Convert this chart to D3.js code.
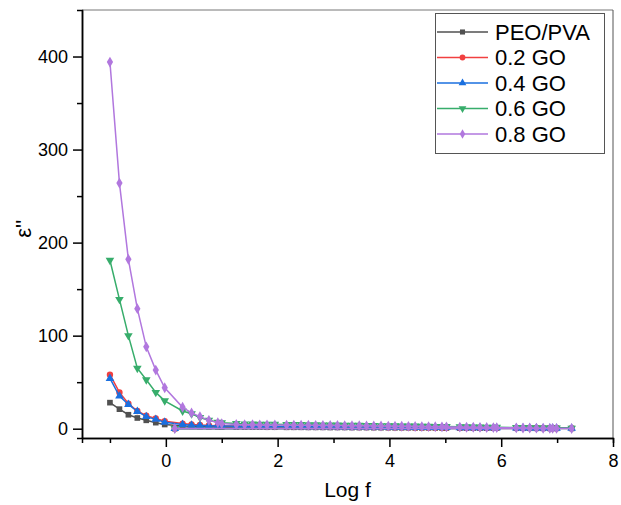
<!DOCTYPE html>
<html>
<head>
<meta charset="utf-8">
<script src="https://cdn.jsdelivr.net/npm/d3@7"></script>
<style>
  body { margin: 0; background: #fff; }
  svg { font-family: "Liberation Sans", Arial, sans-serif; }
  .axis path, .axis line { stroke: #000; stroke-width: 1.5; }
  .axis text { fill: #000; font-size: 18px; }
</style>
</head>
<body>
<div id="content"></div>
<script>
// Log f values (x), same for every series. The last point (0.16) is the odd
// point that sits near zero and is drawn as the last point of each series.
var logF = [-1.00, -0.83, -0.67, -0.51, -0.35, -0.18, -0.02,
    0.30, 0.46, 0.61, 0.77, 0.93, 1.00, 1.26, 1.41, 1.55, 1.68, 1.81, 1.95,
    2.16, 2.29, 2.42, 2.55, 2.68, 2.81, 2.94, 3.07, 3.20, 3.33, 3.46, 3.59, 3.72, 3.85, 3.98,
    4.10, 4.22, 4.34, 4.46, 4.58, 4.70, 4.82, 4.94, 5.02,
    5.26, 5.38, 5.50, 5.62, 5.74, 5.86, 5.92,
    6.27, 6.39, 6.51, 6.63, 6.75, 6.87, 6.92, 6.99,
    7.26, 0.16];

var peoPva = [28, 21, 15, 11.5, 9, 6.5, 4.5,
    3, 2.6, 2.3, 2.1, 2, 1.9, 1.8, 1.8, 1.7, 1.7, 1.6, 1.6,
    1.5, 1.5, 1.5, 1.4, 1.4, 1.4, 1.3, 1.3, 1.3, 1.2, 1.2, 1.2, 1.1, 1.1, 1.1,
    1, 1, 1, 0.9, 0.9, 0.9, 0.8, 0.8, 0.8,
    0.7, 0.7, 0.7, 0.6, 0.6, 0.6, 0.6,
    0.5, 0.5, 0.5, 0.4, 0.4, 0.4, 0.4, 0.4,
    0.3, 0.1];

var go02 = [58, 39, 27, 19, 14, 11, 8,
    5.5, 4.6, 3.9, 3.4, 3.1, 3, 2.8, 2.7, 2.6, 2.5, 2.4, 2.4,
    2.3, 2.3, 2.2, 2.2, 2.1, 2.1, 2, 2, 1.9, 1.9, 1.8, 1.8, 1.7, 1.7, 1.6,
    1.6, 1.5, 1.5, 1.4, 1.4, 1.3, 1.3, 1.2, 1.2,
    1.1, 1.1, 1, 1, 0.9, 0.9, 0.9,
    0.8, 0.8, 0.7, 0.7, 0.6, 0.6, 0.6, 0.5,
    0.4, 0.2];

var go04 = [54, 35, 26, 18.5, 13, 10, 7,
    4.5, 3.8, 3.4, 3.1, 2.9, 2.8, 2.7, 2.6, 2.5, 2.5, 2.4, 2.4,
    2.3, 2.3, 2.2, 2.2, 2.1, 2.1, 2, 2, 1.9, 1.9, 1.8, 1.8, 1.7, 1.7, 1.6,
    1.6, 1.5, 1.5, 1.4, 1.4, 1.3, 1.3, 1.2, 1.2,
    1.1, 1.1, 1, 1, 0.9, 0.9, 0.9,
    0.8, 0.8, 0.7, 0.7, 0.6, 0.6, 0.6, 0.5,
    0.4, 0.2];

var go06 = [181, 139, 100, 65, 52.6, 39, 30,
    19, 16, 12, 9, 7, 6.5, 5.5, 5.2, 5, 4.9, 4.8, 4.7,
    4.6, 4.5, 4.4, 4.3, 4.2, 4.1, 4, 3.9, 3.8, 3.7, 3.6, 3.5, 3.4, 3.3, 3.2,
    3.1, 3, 2.9, 2.8, 2.7, 2.6, 2.5, 2.4, 2.3,
    2.1, 2, 1.9, 1.8, 1.7, 1.6, 1.5,
    1.3, 1.2, 1.1, 1, 0.9, 0.8, 0.8, 0.7,
    0.5, 0.2];

var go08 = [394, 264, 182, 129, 88, 63, 44,
    23, 17, 13, 9, 6.5, 5.5, 4.5, 4.3, 4.2, 4.1, 4, 4,
    3.9, 3.8, 3.8, 3.7, 3.6, 3.5, 3.5, 3.4, 3.3, 3.2, 3.2, 3.1, 3, 2.9, 2.8,
    2.7, 2.6, 2.5, 2.4, 2.3, 2.2, 2.1, 2, 1.9,
    1.7, 1.6, 1.5, 1.4, 1.3, 1.2, 1.1,
    0.9, 0.8, 0.7, 0.6, 0.5, 0.4, 0.4, 0.3,
    0.2, 0.2];

var seriesNames = ["PEO/PVA", "0.2 GO", "0.4 GO", "0.6 GO", "0.8 GO"];
var seriesValues = [peoPva, go02, go04, go06, go08];
var seriesColors = ["#515151", "#F14040", "#1A6FDF", "#37AD6B", "#B177DE"];
var seriesSymbols = [d3.symbolSquare, d3.symbolCircle, d3.symbolTriangle, "down", d3.symbolDiamond];

var xMajorTicks = [0, 2, 4, 6, 8];
var xMinorTicks = [-1, 1, 3, 5, 7];
var yMajorTicks = [0, 100, 200, 300, 400];
var yMinorTicks = [50, 150, 250, 350];

// SVG size
var svgWidth = 621;
var svgHeight = 505;
var margin = { top: 10, right: 8, bottom: 67, left: 82 },
    plotWidth = svgWidth - margin.left - margin.right,
    plotHeight = svgHeight - margin.top - margin.bottom;

var xScale = d3.scaleLinear().domain([-1.5, 8]).range([0, plotWidth]);
var yScale = d3.scaleLinear().domain([-10, 450]).range([plotHeight, 0]);

var svg = d3.select("#content").append("svg")
    .attr("width", svgWidth)
    .attr("height", svgHeight);

var chart = svg.append("g")
    .attr("transform", "translate(" + margin.left + "," + margin.top + ")");

// Top and right frame lines (thin grey)
chart.append("line")
    .attr("x1", 0).attr("y1", 0).attr("x2", plotWidth).attr("y2", 0)
    .attr("stroke", "#777").attr("stroke-width", 1);
chart.append("line")
    .attr("x1", plotWidth).attr("y1", 0).attr("x2", plotWidth).attr("y2", plotHeight)
    .attr("stroke", "#555").attr("stroke-width", 1);

// Minor ticks first, then major ticks with labels
chart.append("g")
    .attr("class", "x axis")
    .attr("transform", "translate(0," + plotHeight + ")")
    .call(d3.axisBottom(xScale).tickValues(xMinorTicks).tickSize(5).tickFormat(""));
chart.append("g")
    .attr("class", "x axis")
    .attr("transform", "translate(0," + plotHeight + ")")
    .call(d3.axisBottom(xScale).tickValues(xMajorTicks).tickSize(9).tickSizeOuter(0).tickPadding(7).tickFormat(d3.format("d")));

chart.append("g")
    .attr("class", "y axis")
    .call(d3.axisLeft(yScale).tickValues(yMinorTicks).tickSize(5).tickFormat(""));
chart.append("g")
    .attr("class", "y axis")
    .call(d3.axisLeft(yScale).tickValues(yMajorTicks).tickSize(9).tickSizeOuter(0).tickPadding(5).tickFormat(d3.format("d")));

// Axis titles
svg.append("text")
    .attr("x", margin.left + xScale(3.25))
    .attr("y", 497)
    .attr("text-anchor", "middle")
    .attr("font-size", "21px")
    .text("Log f");

svg.append("text")
    .attr("transform", "translate(31," + (margin.top + yScale(215)) + ") rotate(-90)")
    .attr("text-anchor", "middle")
    .attr("font-size", "22px")
    .text("ε''");

function symbolPath(sym, size) {
    if (sym === "down") {
        return d3.symbol().type(d3.symbolTriangle).size(size)();
    }
    return d3.symbol().type(sym).size(size)();
}

function symbolTransform(sym, x, y) {
    return "translate(" + x + "," + y + ")" + (sym === "down" ? " rotate(180)" : "");
}

var line = d3.line()
    .x(function (d) { return xScale(d[0]); })
    .y(function (d) { return yScale(d[1]); });

// Draw every series: line then markers
for (var s = 0; s < seriesValues.length; s++) {
    var pts = logF.map(function (x, i) { return [x, seriesValues[s][i]]; });
    var sym = seriesSymbols[s];
    var g = chart.append("g").attr("class", "series");
    g.append("path")
        .datum(pts)
        .attr("fill", "none")
        .attr("stroke", seriesColors[s])
        .attr("stroke-width", 1.5)
        .attr("d", line);
    g.selectAll(".pt")
        .data(pts)
        .enter().append("path")
        .attr("class", "pt")
        .attr("fill", seriesColors[s])
        .attr("d", symbolPath(sym, sym === d3.symbolDiamond ? 34 : 32))
        .attr("transform", function (d) { return symbolTransform(sym, xScale(d[0]), yScale(d[1])); });
}

// Legend
var legend = svg.append("g");
legend.append("rect")
    .attr("x", 435.5).attr("y", 13.5)
    .attr("width", 169).attr("height", 140)
    .attr("fill", "#fff")
    .attr("stroke", "#555")
    .attr("stroke-width", 1);

for (var k = 0; k < seriesNames.length; k++) {
    var ly = 32 + k * 25.5;
    legend.append("line")
        .attr("x1", 437).attr("x2", 488)
        .attr("y1", ly).attr("y2", ly)
        .attr("stroke", seriesColors[k])
        .attr("stroke-width", 1.5);
    legend.append("path")
        .attr("fill", seriesColors[k])
        .attr("d", symbolPath(seriesSymbols[k], 26))
        .attr("transform", symbolTransform(seriesSymbols[k], 462.5, ly));
    legend.append("text")
        .attr("x", 495)
        .attr("y", ly)
        .attr("dy", "0.36em")
        .attr("font-size", "22px")
        .text(seriesNames[k]);
}
</script>
</body>
</html>
